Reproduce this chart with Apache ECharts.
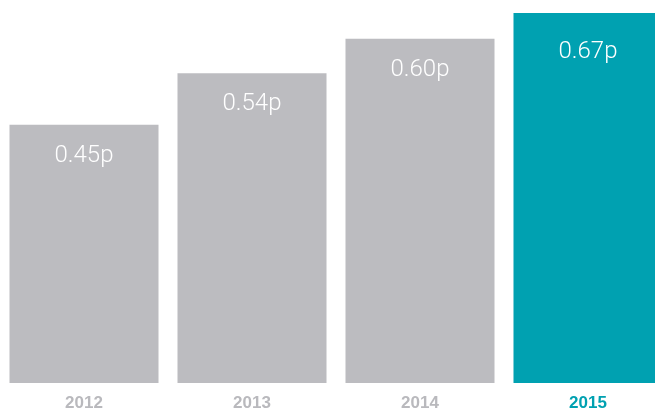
<!DOCTYPE html>
<html><head><meta charset="utf-8">
<script src="https://cdn.jsdelivr.net/npm/echarts@6/dist/echarts.min.js"></script>
<style>html,body{margin:0;padding:0;background:#fff}#c{width:655px;height:409px}</style>
</head><body><div id="c"></div>
<script>
const categories = ['2012', '2013', '2014', '2015'];
const values = [0.45, 0.54, 0.60, 0.67];
const valueLabels = ['0.45p', '0.54p', '0.60p', '0.67p'];
const highlightYear = '2015';

const GRAY = '#bcbcc0', TEAL = '#00a1b1', AXGRAY = '#b9b9bd';
const chart = echarts.init(document.getElementById('c'), null, {renderer: 'canvas'});
chart.setOption({
  animation: false,
  grid: {left: 0, top: 13, bottom: 26, right: -17, containLabel: false, outerBoundsMode: 'none'},
  xAxis: {
    type: 'category', data: categories,
    axisLine: {show: false}, axisTick: {show: false},
    axisLabel: {
      margin: 12, fontFamily: '"Liberation Sans Narrow", "Liberation Sans", sans-serif',
      fontWeight: 'bold', fontSize: 17,
      color: (v) => v === highlightYear ? TEAL : AXGRAY
    }
  },
  yAxis: {type: 'value', min: 0, max: 0.645, show: false, splitLine: {show: false}},
  series: [{
    type: 'bar', clip: true, barCategoryGap: '11.3%',
    data: values.map((v, i) => ({
      value: v,
      itemStyle: {color: categories[i] === highlightYear ? TEAL : GRAY},
      label: {distance: categories[i] === highlightYear ? 27 : 19}
    })),
    label: {
      show: true, position: 'insideTop', color: '#fff',
      fontFamily: 'Roboto, "Liberation Sans", sans-serif', fontWeight: 300, fontSize: 24,
      formatter: (p) => valueLabels[p.dataIndex]
    }
  }]
});
</script></body></html>
